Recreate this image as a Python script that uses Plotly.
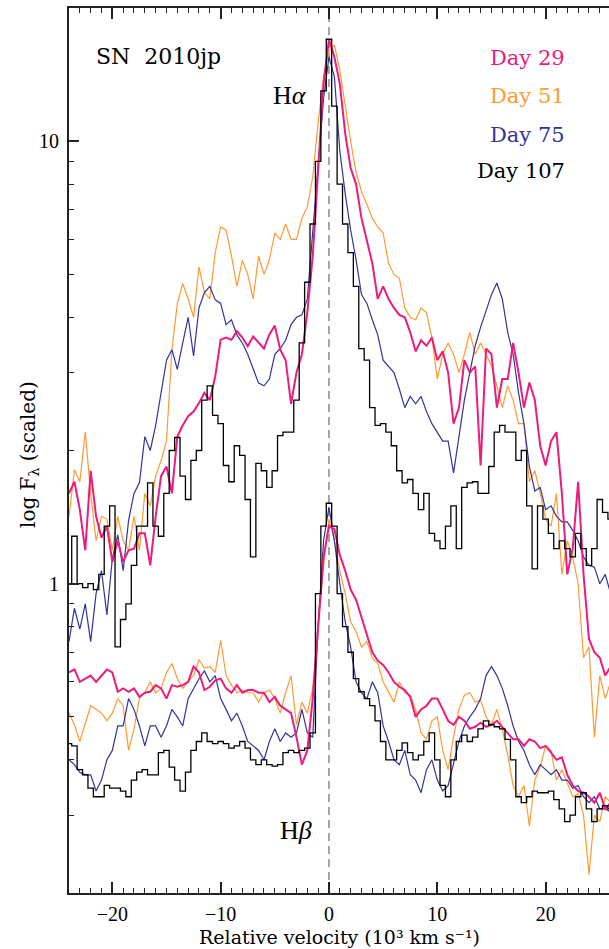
import math
import plotly.graph_objects as go

# Velocity grid (10^3 km/s)
VEL = [-24.0, -23.5, -23.0, -22.5, -22.0, -21.5, -21.0, -20.5, -20.0, -19.5,
       -19.0, -18.5, -18.0, -17.5, -17.0, -16.5, -16.0, -15.5, -15.0, -14.5,
       -14.0, -13.5, -13.0, -12.5, -12.0, -11.5, -11.0, -10.5, -10.0, -9.5,
       -9.0, -8.5, -8.0, -7.5, -7.0, -6.5, -6.0, -5.5, -5.0, -4.5,
       -4.0, -3.5, -3.0, -2.5, -2.0, -1.5, -1.0, -0.5, 0.0, 0.5,
       1.0, 1.5, 2.0, 2.5, 3.0, 3.5, 4.0, 4.5, 5.0, 5.5,
       6.0, 6.5, 7.0, 7.5, 8.0, 8.5, 9.0, 9.5, 10.0, 10.5,
       11.0, 11.5, 12.0, 12.5, 13.0, 13.5, 14.0, 14.5, 15.0, 15.5,
       16.0, 16.5, 17.0, 17.5, 18.0, 18.5, 19.0, 19.5, 20.0, 20.5,
       21.0, 21.5, 22.0, 22.5, 23.0, 23.5, 24.0, 24.5, 25.0, 25.5,
       26.0]

# H-alpha profiles (scaled flux)
DAY29_HA = [1.60, 1.70, 1.47, 1.19, 1.80, 1.42, 1.27, 1.35, 1.12, 1.25,
            1.12, 1.19, 1.20, 1.30, 1.30, 1.10, 1.42, 1.75, 1.84, 1.60,
            2.15, 2.28, 2.39, 2.45, 2.56, 2.70, 2.60, 2.94, 3.56, 3.60,
            3.56, 3.72, 3.60, 3.44, 3.62, 3.50, 3.40, 3.66, 3.83, 3.38,
            3.20, 2.55, 3.00, 3.30, 4.10, 5.50, 8.50, 13.5, 17.0, 15.5,
            13.5, 10.4, 8.7, 8.0, 6.7, 6.0, 5.3, 4.4, 4.7, 4.4,
            4.2, 4.05, 4.0, 3.7, 3.35, 3.55, 3.45, 3.6, 3.2, 3.35,
            3.0, 2.3, 2.5, 3.2, 3.0, 3.1, 1.85, 3.4, 3.3, 2.5,
            2.9, 2.9, 3.5, 3.0, 2.5, 2.85, 2.6, 2.05, 1.85, 2.1,
            2.2, 1.6, 1.05, 1.2, 1.7, 1.05, 0.75, 0.7, 0.68, 0.62,
            0.65]

DAY51_HA = [1.42, 1.81, 1.70, 2.20, 1.60, 1.25, 1.42, 1.40, 1.19, 1.42,
            1.25, 1.19, 1.42, 1.19, 1.60, 1.50, 1.75, 1.90, 2.10, 3.37,
            4.30, 4.77, 4.40, 4.00, 5.20, 4.55, 4.40, 5.60, 6.40, 6.30,
            5.50, 4.70, 5.38, 5.00, 4.40, 5.50, 5.00, 5.40, 6.20, 6.00,
            6.50, 6.00, 6.00, 6.70, 7.10, 8.30, 11.0, 14.0, 16.0, 16.5,
            14.5, 12.0, 10.0, 8.5, 7.7, 7.2, 6.7, 6.4, 6.2, 5.3,
            5.0, 4.9, 4.2, 4.0, 3.95, 4.2, 4.1, 3.6, 2.9, 3.3,
            3.5, 3.3, 3.0, 3.3, 3.7, 3.3, 3.5, 3.3, 3.1, 2.8,
            2.5, 2.8, 2.6, 2.3, 2.3, 1.7, 1.8, 1.6, 1.4, 1.35,
            1.6, 1.05, 1.25, 1.15, 1.0, 0.68, 0.72, 0.45, 0.62, 0.55,
            0.60]

DAY75_HA = [0.74, 0.88, 0.79, 0.90, 0.74, 0.95, 1.07, 0.85, 1.14, 1.29,
            1.07, 1.39, 1.60, 1.69, 2.15, 2.00, 2.28, 2.70, 3.20, 3.38,
            3.05, 3.50, 4.00, 3.27, 4.20, 4.55, 4.70, 4.38, 4.30, 3.85,
            3.95, 3.65, 3.50, 3.30, 3.05, 2.84, 2.80, 2.90, 3.30, 3.40,
            3.55, 3.85, 4.00, 4.05, 4.40, 6.20, 9.00, 12.5, 15.5, 14.0,
            9.5, 7.6, 6.3, 5.4, 4.5, 4.3, 3.95, 3.65, 3.2, 3.1,
            3.0, 2.75, 2.5, 2.65, 2.55, 2.65, 2.45, 2.3, 2.2, 2.1,
            2.1, 1.78, 2.15, 2.6, 3.0, 3.45, 3.8, 4.15, 4.5, 4.78,
            4.4, 3.7, 3.3, 2.7, 2.3, 1.84, 1.62, 1.65, 1.47, 1.5,
            1.42, 1.38, 1.38, 1.32, 1.25, 1.15, 1.1, 1.09, 1.0, 1.05,
            0.95]

DAY107_HA = [1.00, 1.28, 1.00, 0.98, 1.00, 0.97, 1.05, 1.35, 1.50, 0.72,
             0.83, 0.90, 1.10, 1.35, 1.35, 1.69, 1.35, 1.28, 1.60, 2.00,
             2.14, 1.75, 1.55, 1.90, 2.00, 2.60, 2.80, 2.40, 2.30, 1.85,
             1.70, 2.05, 1.95, 1.55, 1.15, 1.87, 1.80, 1.65, 1.80, 2.16,
             2.20, 2.20, 2.60, 3.50, 4.80, 6.50, 9.00, 13.0, 17.0, 12.0,
             8.0, 6.5, 5.6, 4.7, 3.4, 3.2, 2.5, 2.28, 2.30, 2.20,
             2.05, 1.80, 1.69, 1.72, 1.60, 1.47, 1.60, 1.30, 1.25, 1.20,
             1.35, 1.50, 1.20, 1.65, 1.69, 1.70, 1.60, 1.60, 1.84, 2.20,
             2.28, 2.20, 2.20, 1.90, 2.00, 1.50, 1.08, 1.50, 1.40, 1.30,
             1.20, 1.25, 1.20, 1.15, 1.30, 1.20, 1.10, 1.20, 1.55, 1.45,
             1.40]

# H-beta profiles (scaled flux)
DAY29_HB = [0.63, 0.64, 0.60, 0.61, 0.62, 0.60, 0.62, 0.64, 0.63, 0.57,
            0.58, 0.57, 0.58, 0.555, 0.567, 0.57, 0.59, 0.58, 0.55, 0.59,
            0.585, 0.59, 0.60, 0.65, 0.63, 0.575, 0.585, 0.605, 0.61, 0.58,
            0.567, 0.59, 0.567, 0.575, 0.575, 0.567, 0.567, 0.54, 0.555, 0.53,
            0.52, 0.51, 0.45, 0.39, 0.42, 0.55, 0.80, 1.15, 1.35, 1.33,
            1.16, 1.07, 0.97, 0.92, 0.84, 0.77, 0.70, 0.67, 0.655, 0.63,
            0.60, 0.585, 0.575, 0.555, 0.50, 0.52, 0.53, 0.55, 0.55, 0.52,
            0.49, 0.48, 0.50, 0.49, 0.47, 0.475, 0.485, 0.475, 0.48, 0.49,
            0.475, 0.46, 0.445, 0.445, 0.43, 0.445, 0.44, 0.425, 0.43, 0.415,
            0.40, 0.405, 0.37, 0.35, 0.34, 0.337, 0.33, 0.32, 0.337, 0.31,
            0.32]

DAY51_HB = [0.51, 0.48, 0.44, 0.48, 0.53, 0.52, 0.51, 0.49, 0.51, 0.55,
            0.53, 0.42, 0.47, 0.55, 0.567, 0.60, 0.567, 0.58, 0.63, 0.66,
            0.61, 0.58, 0.60, 0.62, 0.674, 0.645, 0.65, 0.63, 0.745, 0.62,
            0.59, 0.567, 0.575, 0.567, 0.567, 0.54, 0.567, 0.575, 0.55, 0.51,
            0.567, 0.62, 0.48, 0.54, 0.51, 0.58, 0.80, 1.10, 1.40, 1.25,
            1.07, 0.95, 0.82, 0.78, 0.72, 0.74, 0.68, 0.66, 0.60, 0.567,
            0.54, 0.60, 0.567, 0.56, 0.52, 0.46, 0.445, 0.49, 0.50, 0.42,
            0.38, 0.45, 0.52, 0.56, 0.567, 0.54, 0.545, 0.50, 0.48, 0.52,
            0.47, 0.41, 0.35, 0.33, 0.35, 0.283, 0.36, 0.385, 0.43, 0.42,
            0.36, 0.38, 0.355, 0.33, 0.335, 0.30, 0.22, 0.30, 0.29, 0.33,
            0.32]

DAY75_HB = [0.40, 0.39, 0.375, 0.37, 0.37, 0.34, 0.36, 0.40, 0.42, 0.477,
            0.477, 0.55, 0.52, 0.477, 0.43, 0.477, 0.477, 0.45, 0.477, 0.52,
            0.50, 0.477, 0.55, 0.58, 0.61, 0.635, 0.60, 0.62, 0.55, 0.52,
            0.49, 0.51, 0.477, 0.44, 0.43, 0.42, 0.40, 0.44, 0.47, 0.44,
            0.46, 0.45, 0.46, 0.52, 0.46, 0.45, 0.80, 1.25, 1.49, 1.25,
            1.00, 0.82, 0.72, 0.60, 0.567, 0.55, 0.60, 0.567, 0.477, 0.44,
            0.40, 0.39, 0.42, 0.37, 0.36, 0.337, 0.38, 0.40, 0.36, 0.34,
            0.35, 0.39, 0.44, 0.477, 0.50, 0.52, 0.55, 0.62, 0.65, 0.62,
            0.58, 0.53, 0.477, 0.44, 0.42, 0.39, 0.37, 0.39, 0.38, 0.37,
            0.38, 0.36, 0.36, 0.345, 0.35, 0.33, 0.32, 0.33, 0.31, 0.31,
            0.305]

DAY107_HB = [0.435, 0.43, 0.38, 0.37, 0.345, 0.33, 0.33, 0.35, 0.345, 0.345,
             0.34, 0.33, 0.36, 0.375, 0.38, 0.37, 0.37, 0.415, 0.42, 0.385,
             0.36, 0.34, 0.375, 0.42, 0.44, 0.46, 0.44, 0.435, 0.44, 0.435,
             0.425, 0.43, 0.44, 0.425, 0.40, 0.39, 0.40, 0.39, 0.387, 0.39,
             0.415, 0.42, 0.415, 0.42, 0.425, 0.46, 0.95, 1.35, 1.52, 1.35,
             0.95, 0.80, 0.70, 0.61, 0.57, 0.55, 0.53, 0.49, 0.44, 0.40,
             0.40, 0.42, 0.437, 0.415, 0.40, 0.41, 0.44, 0.46, 0.40, 0.35,
             0.33, 0.40, 0.44, 0.455, 0.44, 0.45, 0.47, 0.49, 0.48, 0.475,
             0.47, 0.445, 0.40, 0.33, 0.32, 0.33, 0.34, 0.337, 0.337, 0.34,
             0.325, 0.31, 0.29, 0.30, 0.33, 0.337, 0.31, 0.29, 0.31, 0.315,
             0.31]

EPOCHS = ["Day 29", "Day 51", "Day 75", "Day 107"]
COLORS = ["#EC1C7C", "#FF9A33", "#33339A", "#000000"]
X_RANGE = [-24.0, 25.85]
Y_RANGE = [0.2, 20.0]
Y_MAJOR = [1, 10]
Y_MINOR = [0.2, 0.3, 0.4, 0.5, 0.6, 0.7, 0.8, 0.9, 2, 3, 4, 5, 6, 7, 8, 9]

series = {
    "Day 29": (DAY29_HA, DAY29_HB, 2.0, "linear"),
    "Day 51": (DAY51_HA, DAY51_HB, 1.2, "linear"),
    "Day 75": (DAY75_HA, DAY75_HB, 1.2, "linear"),
    "Day 107": (DAY107_HA, DAY107_HB, 1.3, "hvh"),
}
draw_order = ["Day 51", "Day 75", "Day 29", "Day 107"]

fig = go.Figure()
for name in draw_order:
    ha, hb, w, shape = series[name]
    col = COLORS[EPOCHS.index(name)]
    for ys in (ha, hb):
        fig.add_trace(go.Scatter(x=VEL, y=ys, mode="lines", name=name,
                                 line=dict(color=col, width=w, shape=shape),
                                 showlegend=False, hoverinfo="skip"))

fig.add_shape(type="line", xref="x", yref="paper", x0=0, x1=0, y0=0, y1=1,
              line=dict(color="#888888", width=1.5, dash="8px,5px"), layer="below")

AX = "#222222"
TICKFONT = dict(family="Liberation Serif, Times New Roman, serif", size=20, color="black")
ylog = [math.log10(Y_RANGE[0]), math.log10(Y_RANGE[1])]

fig.update_layout(
    width=609, height=949,
    margin=dict(l=69, r=0, t=8, b=56),
    paper_bgcolor="white", plot_bgcolor="white",
    showlegend=False,
    xaxis=dict(range=X_RANGE, tick0=0, dtick=10, ticks="inside", ticklen=11,
               tickwidth=1.5, tickcolor=AX, showline=True, linewidth=2,
               linecolor=AX, mirror="allticks", showgrid=False, zeroline=False,
               tickfont=TICKFONT, ticklabelstandoff=2,
               minor=dict(tick0=0, dtick=1, ticks="inside", ticklen=5,
                          tickwidth=1.2, tickcolor=AX, showgrid=False)),
    yaxis=dict(type="log", range=ylog, tickmode="array", tickvals=Y_MAJOR,
               ticktext=[str(v) for v in Y_MAJOR], ticks="inside", ticklen=10,
               tickwidth=1.5, tickcolor=AX, showline=True, linewidth=2,
               linecolor=AX, showgrid=False, zeroline=False, tickfont=TICKFONT,
               ticklabelstandoff=4,
               minor=dict(tickmode="array", tickvals=Y_MINOR, ticks="inside",
                          ticklen=5, tickwidth=1.2, tickcolor=AX, showgrid=False)),
    yaxis2=dict(type="log", range=ylog, overlaying="y", side="right", anchor="x",
                tickmode="array", tickvals=Y_MAJOR, showticklabels=False,
                ticks="inside", ticklen=10, tickwidth=1.5, tickcolor=AX,
                showline=False, showgrid=False, zeroline=False,
                minor=dict(tickmode="array", tickvals=Y_MINOR, ticks="inside",
                           ticklen=5, tickwidth=1.2, tickcolor=AX, showgrid=False)),
)

SERIF = "DejaVu Serif, serif"
TIMES = "Liberation Serif, Times New Roman, serif"

def px_x(px):
    return (px - 69) / 540.0

def px_y(py):
    return (893 - py) / 885.0

annotations = [
    dict(text="SN\u00a0 2010jp", x=px_x(94), y=px_y(57), xanchor="left", yanchor="middle",
         font=dict(family=SERIF, size=22, color="black")),
    dict(text="H<i>α</i>", x=px_x(290), y=px_y(95), xanchor="center", yanchor="middle",
         font=dict(family=TIMES, size=26, color="black")),
    dict(text="H<i>β</i>", x=px_x(296), y=px_y(830), xanchor="center", yanchor="middle",
         font=dict(family=TIMES, size=26, color="black")),
    dict(text="Relative velocity (10³ km s⁻¹)", x=px_x(339), y=px_y(937),
         xanchor="center", yanchor="middle", font=dict(family=SERIF, size=19, color="black")),
    dict(text="log F<sub>λ</sub> (scaled)", x=px_x(29), y=px_y(455), textangle=-90,
         xanchor="center", yanchor="middle", font=dict(family=SERIF, size=20, color="black")),
]
legend_mid = [58, 96, 135, 171]
for name, col, ym in zip(EPOCHS, COLORS, legend_mid):
    annotations.append(dict(text=name, x=px_x(567), y=px_y(ym), xanchor="right",
                            yanchor="middle", font=dict(family=SERIF, size=21, color=col)))
for a in annotations:
    a.update(xref="paper", yref="paper", showarrow=False)
fig.update_layout(annotations=annotations)

fig.write_html("out.html")
